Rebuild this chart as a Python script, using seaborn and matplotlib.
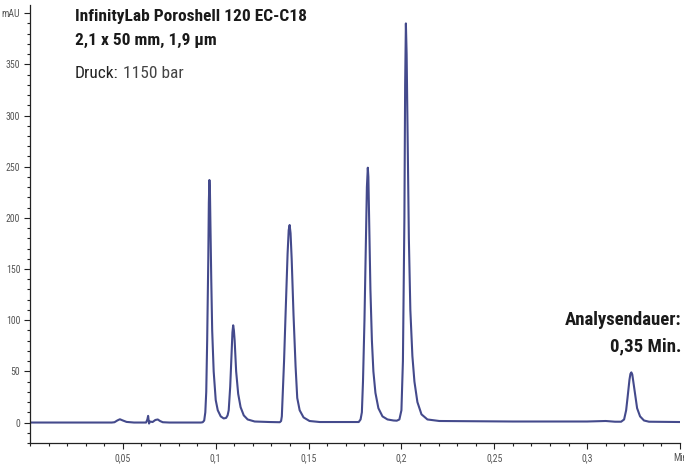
import matplotlib
matplotlib.use("Agg")
import matplotlib.pyplot as plt
import seaborn as sns
from matplotlib.ticker import MultipleLocator, FixedLocator, FixedFormatter

# Chromatogramm: Zeit (Min.) und Signal (mAU)
zeit = [
    0.000, 0.020, 0.044, 0.0455, 0.047, 0.0484, 0.050, 0.052, 0.056, 0.0625,
    0.0632, 0.0636, 0.0641, 0.0646, 0.0660, 0.0675, 0.0688, 0.0700, 0.0715, 0.075,
    0.092, 0.0930, 0.0938, 0.0944, 0.0949, 0.0954, 0.0960, 0.0963, 0.0966, 0.0969,
    0.0971, 0.0976, 0.0981, 0.0989, 0.1000, 0.1011, 0.1027, 0.1043, 0.1056, 0.1064,
    0.1070, 0.1078, 0.1086, 0.1090, 0.1094, 0.1098, 0.1102, 0.1110, 0.1121, 0.1134,
    0.1151, 0.1172, 0.1210, 0.1290, 0.1345, 0.1352, 0.1356, 0.1360, 0.1368, 0.1376,
    0.1387, 0.1393, 0.1398, 0.1403, 0.1409, 0.1419, 0.1430, 0.1439, 0.1452, 0.1473,
    0.1505, 0.1560, 0.1770, 0.1780, 0.1787, 0.1793, 0.1801, 0.1809, 0.1814, 0.1819,
    0.1822, 0.1825, 0.1833, 0.1841, 0.1849, 0.1860, 0.1876, 0.1898, 0.1925, 0.1957,
    0.1975, 0.1989, 0.2000, 0.2008, 0.2016, 0.2020, 0.2024, 0.2028, 0.2032, 0.2040,
    0.2048, 0.2059, 0.2070, 0.2086, 0.2108, 0.2140, 0.2204, 0.2600, 0.3000, 0.3100,
    0.3150, 0.3183, 0.3199, 0.3210, 0.3218, 0.3228, 0.3233, 0.3238, 0.3243, 0.3247,
    0.3258, 0.3269, 0.3285, 0.3306, 0.3333, 0.3500,
]
signal = [
    0.0, 0.0, 0.0, 0.3, 2.0, 3.2, 2.0, 0.6, 0.0, 0.0,
    3.0, 6.5, -1.0, 1.0, 0.5, 2.5, 3.0, 1.5, 0.3, 0.0,
    0.0, 0.3, 2.0, 10.0, 30.0, 80.0, 160.0, 215.0, 237.0, 225.0,
    200.0, 140.0, 90.0, 50.0, 22.0, 12.0, 6.0, 4.0, 4.5, 7.0,
    12.0, 35.0, 70.0, 88.0, 95.0, 90.0, 80.0, 50.0, 28.0, 15.0,
    7.0, 3.0, 1.0, 0.5, 0.3, 1.5, 6.0, 24.0, 60.0, 105.0,
    165.0, 188.0, 193.0, 185.0, 160.0, 105.0, 55.0, 24.0, 12.0, 5.0,
    1.5, 0.5, 0.5, 3.0, 10.0, 40.0, 100.0, 180.0, 230.0, 249.0,
    240.0, 210.0, 130.0, 80.0, 50.0, 29.0, 14.0, 6.0, 3.0, 2.0,
    1.8, 3.0, 12.0, 60.0, 200.0, 330.0, 390.0, 360.0, 300.0, 180.0,
    110.0, 65.0, 40.0, 20.0, 8.0, 3.0, 1.5, 1.0, 1.0, 1.5,
    0.8, 0.8, 3.0, 12.0, 25.0, 42.0, 47.5, 49.0, 47.0, 42.0,
    28.0, 14.0, 6.0, 2.0, 0.8, 0.5,
]

x_ticks = [0.05, 0.10, 0.15, 0.20, 0.25, 0.30, 0.35]
x_labels = ["0,05", "0,1", "0,15", "0,2", "0,25", "0,3", "Min"]
y_ticks = [0, 50, 100, 150, 200, 250, 300, 350, 400]
y_labels = ["0", "50", "100", "150", "200", "250", "300", "350", "mAU"]

sns.set_style("ticks")
plt.rcParams["font.family"] = ["DejaVu Sans Condensed", "Liberation Sans Narrow",
                               "Roboto Condensed", "DejaVu Sans"]

fig = plt.figure(figsize=(6.84, 4.65), dpi=100)
ax = fig.add_axes([30 / 684, 22 / 465, 650 / 684, 438 / 465])

sns.lineplot(x=zeit, y=signal, ax=ax, color="#444a8c", linewidth=1.5,
             estimator=None, sort=False)

ax.set_xlim(0, 0.35)
ax.set_ylim(-20, 408)
ax.xaxis.set_major_locator(FixedLocator(x_ticks))
ax.xaxis.set_major_formatter(FixedFormatter(x_labels))
ax.xaxis.set_minor_locator(MultipleLocator(0.01))
ax.yaxis.set_major_locator(FixedLocator(y_ticks))
ax.yaxis.set_major_formatter(FixedFormatter(y_labels))
ax.yaxis.set_minor_locator(MultipleLocator(10))
ax.tick_params(which="major", length=4, width=0.8, labelsize=7,
               labelcolor="#555555", color="#222222", pad=3)
ax.tick_params(which="minor", length=2.5, width=0.8, color="#222222")
sns.despine(ax=ax)
for s in ["left", "bottom"]:
    ax.spines[s].set_linewidth(0.9)
    ax.spines[s].set_color("#222222")
ax.set_xlabel("")
ax.set_ylabel("")

fig.text(75 / 684, 1 - 17 / 465, "InfinityLab Poroshell 120 EC-C18", fontsize=12.5,
         fontweight="bold", va="center", ha="left", color="#1a1a1a")
fig.text(75 / 684, 1 - 40 / 465, "2,1 x 50 mm, 1,9 µm", fontsize=12.5,
         fontweight="bold", va="center", ha="left", color="#1a1a1a")
fig.text(75 / 684, 1 - 74 / 465, "Druck:", fontsize=12.5, va="center", ha="left",
         color="#222222")
fig.text(123 / 684, 1 - 74 / 465, "1150 bar", fontsize=12.5, va="center", ha="left",
         color="#444444")
fig.text(681 / 684, 1 - 320 / 465, "Analysendauer:", fontsize=13.5, fontweight="bold",
         va="center", ha="right", color="#1a1a1a")
fig.text(681 / 684, 1 - 346 / 465, "0,35 Min.", fontsize=13.5, fontweight="bold",
         va="center", ha="right", color="#1a1a1a")

fig.savefig("out.png", dpi=100)
